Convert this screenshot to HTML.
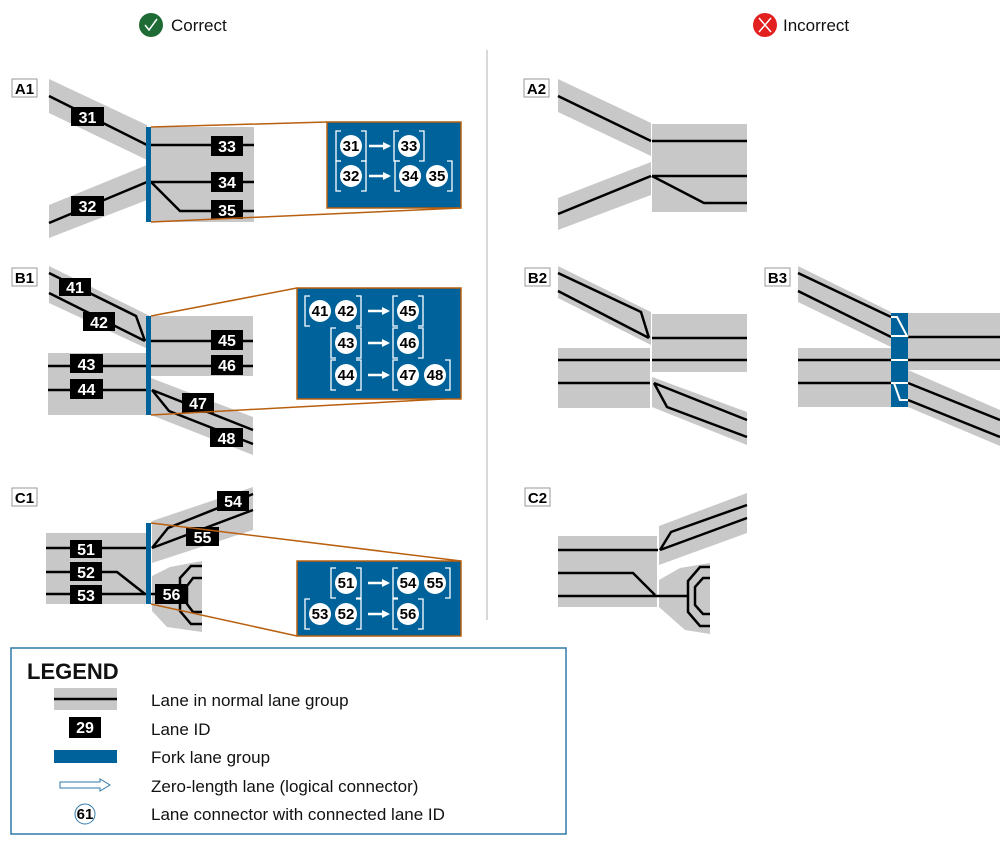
<!DOCTYPE html>
<html><head><meta charset="utf-8"><style>
html,body{margin:0;padding:0;background:#fff}
svg{display:block}
text{font-family:"Liberation Sans",Arial,sans-serif}
.id{font-weight:bold;font-size:16px;fill:#fff;text-anchor:middle}
.c{font-weight:bold;font-size:15px;fill:#000;text-anchor:middle}
.g{fill:#c8c8c8}
.l{stroke:#000;stroke-width:2.5;fill:none}
.o{stroke:#b8600f;stroke-width:1.5;fill:none}
.br{stroke:#fff;stroke-width:1.3;fill:none}
.lab{font-weight:bold;font-size:15px;text-anchor:middle}
.lt{font-size:17px;fill:#111}
</style></head><body>
<svg width="1000" height="846" viewBox="0 0 1000 846" xmlns="http://www.w3.org/2000/svg">
<defs>
<marker id="ah" markerWidth="8" markerHeight="8" refX="6" refY="4" orient="auto" markerUnits="userSpaceOnUse"><path d="M0,0 L8,4 L0,8 z" fill="#fff"/></marker>
</defs>
<circle cx="151" cy="25" r="12" fill="#1e6b35"/>
<path d="M145,25 L149,30 L157,19" stroke="#fff" stroke-width="1.5" fill="none"/>
<text x="171" y="31" font-size="17" fill="#111">Correct</text>
<circle cx="765" cy="25" r="12" fill="#e32020"/>
<path d="M759,18 L771,32 M771,18 L759,32" stroke="#fff" stroke-width="1.5"/>
<text x="783" y="31" font-size="17" fill="#111">Incorrect</text>
<line x1="487" y1="50" x2="487" y2="620" stroke="#ccc" stroke-width="1.5"/>

<g fill="#fff" stroke="#999" stroke-width="1">
<rect x="12" y="79" width="25" height="18"/><rect x="12" y="268" width="25" height="18"/><rect x="12" y="488" width="25" height="18"/>
<rect x="524" y="79" width="25" height="18"/><rect x="525" y="268" width="25" height="18"/><rect x="765" y="268" width="25" height="18"/><rect x="525" y="488" width="25" height="18"/>
</g>
<g class="lab">
<text x="24.5" y="94">A1</text><text x="24.5" y="283">B1</text><text x="24.5" y="503">C1</text>
<text x="536.5" y="94">A2</text><text x="537.5" y="283">B2</text><text x="777.5" y="283">B3</text><text x="537.5" y="503">C2</text>
</g>

<!-- A1 -->
<polygon class="g" points="49,79 147,125 147,160 49,113"/>
<polygon class="g" points="49,205 147,165 147,200 49,238"/>
<rect class="g" x="151" y="127" width="103" height="95"/>
<path class="l" d="M49,96 L147,145 M49,223 L147,182 M151,145 H254 M151,182 H254 M151,182 L180,211 H254"/>
<rect x="146" y="127" width="5" height="95" fill="#00629b"/>
<rect x="71" y="107" width="33" height="19"/><text class="id" x="87.5" y="123">31</text>
<rect x="71" y="196" width="33" height="20"/><text class="id" x="87.5" y="212">32</text>
<rect x="211" y="136" width="32" height="20"/><text class="id" x="227" y="152">33</text>
<rect x="211" y="172" width="32" height="20"/><text class="id" x="227" y="188">34</text>
<rect x="211" y="200" width="32" height="19"/><text class="id" x="227" y="216">35</text>
<path class="o" d="M151,127 L327,122 M151,222 L461,208"/>
<rect x="327" y="122" width="134" height="86" fill="#00629b" stroke="#b8600f" stroke-width="1.5"/>

<!-- B1 -->
<polygon class="g" points="49,266 150,316 150,350 49,303"/>
<rect class="g" x="151" y="316" width="102" height="60"/>
<rect class="g" x="48" y="353" width="99" height="62"/>
<polygon class="g" points="151,378 253,417 253,455 151,415"/>
<path class="l" d="M49,273 L136,316 L145,341 M49,293 L145,341 M151,341 H253 M151,366 H253 M48,366 H147 M48,390 H147 M152,390 L253,430 M152,390 L169,411 L253,444"/>
<rect x="146" y="316" width="5" height="99" fill="#00629b"/>
<rect x="59" y="278" width="32" height="18"/><text class="id" x="75" y="293">41</text>
<rect x="83" y="312" width="32" height="19"/><text class="id" x="99" y="328">42</text>
<rect x="70" y="354" width="33" height="19"/><text class="id" x="86.5" y="370">43</text>
<rect x="70" y="379" width="33" height="20"/><text class="id" x="86.5" y="395">44</text>
<rect x="211" y="330" width="32" height="20"/><text class="id" x="227" y="346">45</text>
<rect x="211" y="355" width="32" height="20"/><text class="id" x="227" y="371">46</text>
<rect x="182" y="393" width="32" height="20"/><text class="id" x="198" y="409">47</text>
<rect x="210" y="428" width="33" height="19"/><text class="id" x="226.5" y="444">48</text>
<path class="o" d="M151,316 L297,288 M151,415 L461,398"/>
<rect x="297" y="288" width="164" height="111" fill="#00629b" stroke="#b8600f" stroke-width="1.5"/>

<!-- C1 -->
<rect class="g" x="46" y="533" width="101" height="71"/>
<polygon class="g" points="152,521 253,487 253,530 152,563"/>
<polygon class="g" points="152,576 170,567 202,561 202,632 167,627 152,611"/>
<path class="l" d="M46,548 H147 M46,572 H117 L145,594 M46,594 H147 M152,548 L168,528 L253,494 M152,548 L253,510 M151,594 H181 M202,566 H191 L180,578 V611 L191,624 H202 M202,578 H193 L187,586 V604 L193,612 H202"/>
<rect x="146" y="523" width="5" height="81" fill="#00629b"/>
<rect x="70" y="540" width="32" height="18"/><text class="id" x="86" y="555">51</text>
<rect x="70" y="562" width="32" height="19"/><text class="id" x="86" y="578">52</text>
<rect x="70" y="585" width="32" height="19"/><text class="id" x="86" y="601">53</text>
<rect x="217" y="491" width="32" height="20"/><text class="id" x="233" y="507">54</text>
<rect x="186" y="527" width="33" height="19"/><text class="id" x="202.5" y="543">55</text>
<rect x="155" y="584" width="33" height="20"/><text class="id" x="171.5" y="600">56</text>
<path class="o" d="M151,523 L461,561 M151,604 L297,636"/>
<rect x="297" y="561" width="164" height="75" fill="#00629b" stroke="#b8600f" stroke-width="1.5"/>

<g fill="#fff">
<circle cx="351" cy="146" r="11"/><circle cx="409" cy="146" r="11"/>
<circle cx="351" cy="176" r="11"/><circle cx="410" cy="176" r="11"/><circle cx="437" cy="176" r="11"/>
<circle cx="320" cy="311" r="11"/><circle cx="346" cy="311" r="11"/><circle cx="408" cy="311" r="11"/>
<circle cx="346" cy="343" r="11"/><circle cx="408" cy="343" r="11"/>
<circle cx="346" cy="375" r="11"/><circle cx="408" cy="375" r="11"/><circle cx="435" cy="375" r="11"/>
<circle cx="346" cy="583" r="11"/><circle cx="408" cy="583" r="11"/><circle cx="435" cy="583" r="11"/>
<circle cx="320" cy="614" r="11"/><circle cx="346" cy="614" r="11"/><circle cx="408" cy="614" r="11"/>
</g>
<g class="c">
<text x="351" y="151">31</text><text x="409" y="151">33</text>
<text x="351" y="181">32</text><text x="410" y="181">34</text><text x="437" y="181">35</text>
<text x="320" y="316">41</text><text x="346" y="316">42</text><text x="408" y="316">45</text>
<text x="346" y="348">43</text><text x="408" y="348">46</text>
<text x="346" y="380">44</text><text x="408" y="380">47</text><text x="435" y="380">48</text>
<text x="346" y="588">51</text><text x="408" y="588">54</text><text x="435" y="588">55</text>
<text x="320" y="619">53</text><text x="346" y="619">52</text><text x="408" y="619">56</text>
</g>
<g class="br">
<path d="M341,131 H336 V161 H341 M361,131 H366 V161 H361"/>
<path d="M399,131 H394 V161 H399 M419,131 H424 V161 H419"/>
<path d="M341,161 H336 V191 H341 M361,161 H366 V191 H361"/>
<path d="M400,161 H395 V191 H400 M447,161 H452 V191 H447"/>
<path d="M310,296 H305 V326 H310 M356,296 H361 V326 H356"/>
<path d="M398,296 H393 V326 H398 M418,296 H423 V326 H418"/>
<path d="M336,328 H331 V358 H336 M356,328 H361 V358 H356"/>
<path d="M398,328 H393 V358 H398 M418,328 H423 V358 H418"/>
<path d="M336,360 H331 V390 H336 M356,360 H361 V390 H356"/>
<path d="M398,360 H393 V390 H398 M445,360 H450 V390 H445"/>
<path d="M336,568 H331 V598 H336 M356,568 H361 V598 H356"/>
<path d="M398,568 H393 V598 H398 M445,568 H450 V598 H445"/>
<path d="M310,599 H305 V629 H310 M356,599 H361 V629 H356"/>
<path d="M398,599 H393 V629 H398 M418,599 H423 V629 H418"/>
</g>
<g stroke="#fff" stroke-width="2.5" marker-end="url(#ah)">
<line x1="369" y1="146" x2="389" y2="146"/><line x1="369" y1="176" x2="389" y2="176"/>
<line x1="368" y1="311" x2="388" y2="311"/><line x1="368" y1="343" x2="388" y2="343"/><line x1="368" y1="375" x2="388" y2="375"/>
<line x1="368" y1="583" x2="388" y2="583"/><line x1="368" y1="614" x2="388" y2="614"/>
</g>

<!-- A2 -->
<polygon class="g" points="558,79 651,123 651,156 558,112"/>
<polygon class="g" points="558,198 651,162 651,195 558,230"/>
<rect class="g" x="652" y="124" width="95" height="88"/>
<path class="l" d="M558,96 L651,141 M558,214 L651,176 M652,141 H747 M652,176 H747 M652,176 L704,203 H747"/>

<!-- B2 -->
<polygon class="g" points="558,266 651,312 651,345 558,298"/>
<rect class="g" x="652" y="314" width="95" height="58"/>
<rect class="g" x="558" y="348" width="92" height="60"/>
<polygon class="g" points="652,377 747,412 747,445 652,407"/>
<path class="l" d="M558,273 L641,312 L649,338 M558,291 L649,338 M652,338 H747 M652,360 H747 M558,360 H650 M558,383 H650 M654,383 L747,420 M654,383 L667,407 L747,437"/>

<!-- B3 -->
<polygon class="g" points="798,266 891,312 891,347 798,302"/>
<rect class="g" x="908" y="313" width="92" height="57"/>
<rect class="g" x="798" y="348" width="93" height="59"/>
<polygon class="g" points="908,370 1000,410 1000,446 908,407"/>
<path class="l" d="M798,273 L891,317 M798,291 L891,337 M908,337 H1000 M908,360 H1000 M798,360 H891 M798,383 H891 M908,383 L1000,420 M908,400 L1000,437"/>
<rect x="891" y="313" width="17" height="94" fill="#00629b"/>
<path d="M891,317 H897 L907,336 H891 M891,360 H908 M891,383 H908 M894,383 L900,400 H908" stroke="#fff" stroke-width="2" fill="none"/>

<!-- C2 -->
<rect class="g" x="558" y="536" width="99" height="71"/>
<polygon class="g" points="659,526 747,493 747,533 659,565"/>
<polygon class="g" points="659,580 680,568 710,563 710,634 685,630 659,607"/>
<path class="l" d="M558,550 H658 M558,573 H633 L655,595 M558,596 H688 M660,550 L671,532 L747,505 M660,550 L747,518 M710,567 H700 L688,581 V612 L700,626 H710 M710,578 H703 L695,587 V605 L703,614 H710"/>

<!-- legend -->
<rect x="11" y="648" width="555" height="186" fill="none" stroke="#2e7aa8" stroke-width="1.5"/>
<text x="27" y="679" font-size="22" font-weight="bold" fill="#111">LEGEND</text>
<rect class="g" x="54" y="688" width="63" height="22"/>
<line x1="54" y1="699" x2="117" y2="699" stroke="#000" stroke-width="2.5"/>
<rect x="69" y="717" width="32" height="21" fill="#000"/><text class="id" x="85" y="733">29</text>
<rect x="54" y="750" width="63" height="13" fill="#00629b"/>
<path d="M60,782 H100 V779 L110,785 L100,791 V788 H60 Z" fill="#fff" stroke="#2e7aa8" stroke-width="1"/>
<circle cx="85" cy="814" r="10" fill="#fff" stroke="#2e7aa8" stroke-width="1"/>
<text class="c" x="85" y="819" font-size="14">61</text>
<text class="lt" x="151" y="706">Lane in normal lane group</text>
<text class="lt" x="151" y="735">Lane ID</text>
<text class="lt" x="151" y="763">Fork lane group</text>
<text class="lt" x="151" y="792">Zero-length lane (logical connector)</text>
<text class="lt" x="151" y="820">Lane connector with connected lane ID</text>
</svg>
</body></html>
